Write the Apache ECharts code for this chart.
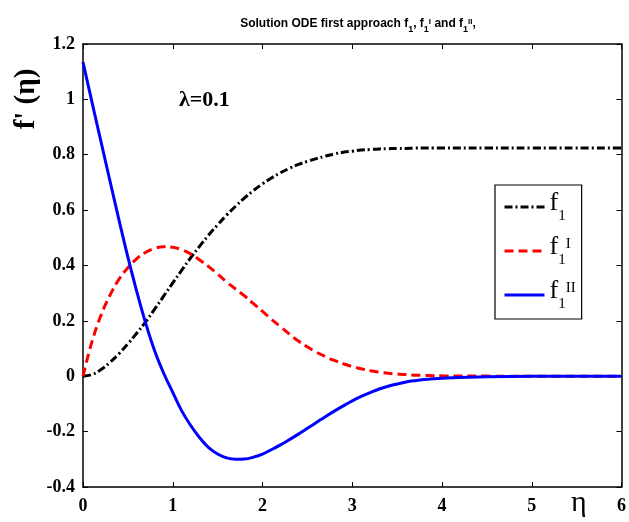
<!DOCTYPE html>
<html><head><meta charset="utf-8">
<script src="https://cdn.jsdelivr.net/npm/echarts@6/dist/echarts.min.js"></script>
<style>html,body{margin:0;padding:0;background:#fff}#c{width:629px;height:522px}</style>
</head><body><div id="c"></div>
<script>
var eta = [0,0.1,0.2,0.3,0.4,0.5,0.6,0.7,0.8,0.9,1.0,1.1,1.2,1.3,1.4,1.5,1.6,1.7,1.8,1.9,2.0,2.1,2.2,2.3,2.4,2.5,2.6,2.7,2.8,2.9,3.0,3.1,3.2,3.3,3.4,3.5,3.6,3.7,3.8,3.9,4.0,4.5,5.0,5.5,6.0];
var f1 = [0,0.006,0.024,0.05,0.081,0.117,0.156,0.197,0.243,0.29,0.337,0.383,0.428,0.47,0.51,0.547,0.582,0.614,0.644,0.671,0.695,0.716,0.735,0.751,0.765,0.776,0.786,0.795,0.803,0.809,0.813,0.817,0.819,0.821,0.822,0.823,0.823,0.824,0.824,0.824,0.824,0.824,0.824,0.824,0.824];
var f1p = [0,0.125,0.22,0.292,0.35,0.392,0.425,0.448,0.462,0.468,0.466,0.457,0.442,0.42,0.396,0.369,0.341,0.315,0.29,0.262,0.234,0.206,0.179,0.152,0.127,0.106,0.087,0.071,0.057,0.045,0.035,0.027,0.02,0.015,0.011,0.008,0.006,0.004,0.003,0.002,0.0015,0.0005,0,0,0];
var f1pp = [1.135,0.99,0.848,0.706,0.566,0.43,0.305,0.19,0.09,0.01,-0.058,-0.125,-0.178,-0.222,-0.258,-0.281,-0.295,-0.300,-0.299,-0.292,-0.281,-0.265,-0.248,-0.229,-0.209,-0.188,-0.167,-0.146,-0.126,-0.107,-0.089,-0.073,-0.059,-0.046,-0.036,-0.028,-0.021,-0.016,-0.012,-0.009,-0.007,-0.002,0,0,0];
var xTicks = {min:0, max:6, interval:1};
var yTicks = {min:-0.4, max:1.2, interval:0.2};

function pairs(ys){ return eta.map(function(x,i){return [x, ys[i]];}); }
var serif = '"Liberation Serif","Times New Roman",serif';
var sans = '"Liberation Sans",Arial,sans-serif';
var chart = echarts.init(document.getElementById('c'));
var axisCommon = {
  axisLine:{show:true,onZero:false,lineStyle:{color:'#000',width:1.5}},
  axisTick:{show:true,inside:true,length:5,lineStyle:{color:'#000',width:1}},
  splitLine:{show:false}
};
function ax(extra){ return Object.assign({}, JSON.parse(JSON.stringify(axisCommon)), extra); }
var lblStyle = {color:'#000',fontFamily:serif,fontWeight:'bold',fontSize:18};
chart.setOption({
  animation:false,
  backgroundColor:'#fff',
  title:{
    text:'{t|Solution ODE first approach f}{s|1}{t|, f}{s|1}{u|I}{t| and f}{s|1}{u|II}{t|,}',
    left:353, textAlign:'center', top:13,
    textStyle:{rich:{
      t:{fontFamily:sans,fontWeight:'bold',fontSize:12,color:'#000',lineHeight:16,verticalAlign:'top'},
      s:{fontFamily:sans,fontWeight:'bold',fontSize:9,color:'#000',lineHeight:10,verticalAlign:'bottom'},
      u:{fontFamily:sans,fontWeight:'bold',fontSize:8,color:'#000',lineHeight:10,verticalAlign:'top'}
    }}
  },
  grid:{left:83,right:6,top:44,bottom:35},
  xAxis:[
    ax({type:'value',min:xTicks.min,max:xTicks.max,interval:xTicks.interval,position:'bottom',
      axisLabel:Object.assign({margin:10},lblStyle)}),
    ax({type:'value',min:xTicks.min,max:xTicks.max,interval:xTicks.interval,position:'top',axisLabel:{show:false}})
  ],
  yAxis:[
    ax({type:'value',min:yTicks.min,max:yTicks.max,interval:yTicks.interval,position:'left',
      axisLabel:Object.assign({margin:8},lblStyle)}),
    ax({type:'value',min:yTicks.min,max:yTicks.max,interval:yTicks.interval,position:'right',axisLabel:{show:false}})
  ],
  legend:{
    orient:'vertical', left:495, top:185,
    padding:[5,6,7,8], itemGap:10, itemWidth:40, itemHeight:14,
    borderColor:'#000', borderWidth:1.2, backgroundColor:'#fff',
    itemStyle:{opacity:0},
    lineStyle:{width:3},
    data:['f1','f1I','f1II'],
    formatter:function(n){
      if(n==='f1') return '{f|f}{s|1}';
      if(n==='f1I') return '{f|f}{s|1}{u|I}';
      return '{f|f}{s|1}{u|II}';
    },
    textStyle:{rich:{
      f:{fontFamily:serif,fontSize:26,color:'#000',lineHeight:34,verticalAlign:'top'},
      s:{fontFamily:serif,fontSize:15,color:'#000',lineHeight:14,verticalAlign:'bottom'},
      u:{fontFamily:serif,fontSize:15,color:'#000',lineHeight:14,verticalAlign:'top',padding:[3,0,0,0]}
    }}
  },
  graphic:[
    {type:'text',left:179,top:89,style:{text:'λ=0.1',font:'bold 22px '+serif,fill:'#000'}},
    {type:'text',x:12,y:99,rotation:Math.PI/2,style:{text:"f' (η)",font:'bold 29px '+serif,fill:'#000',textAlign:'center',textVerticalAlign:'top'}},
    {type:'text',left:571,top:488,style:{text:'η',font:'30px '+serif,fill:'#000'}}
  ],
  series:[
    {name:'f1',type:'line',data:pairs(f1),symbol:'none',smooth:0.4,
      lineStyle:{color:'#000',width:3,type:[8,3,2,3]},itemStyle:{color:'#000'}},
    {name:'f1I',type:'line',data:pairs(f1p),symbol:'none',smooth:0.4,
      lineStyle:{color:'#ff0000',width:3,type:[9,5]},itemStyle:{color:'#ff0000'}},
    {name:'f1II',type:'line',data:pairs(f1pp),symbol:'none',smooth:0.4,
      lineStyle:{color:'#0000ff',width:3,type:'solid'},itemStyle:{color:'#0000ff'}}
  ]
});
</script></body></html>
